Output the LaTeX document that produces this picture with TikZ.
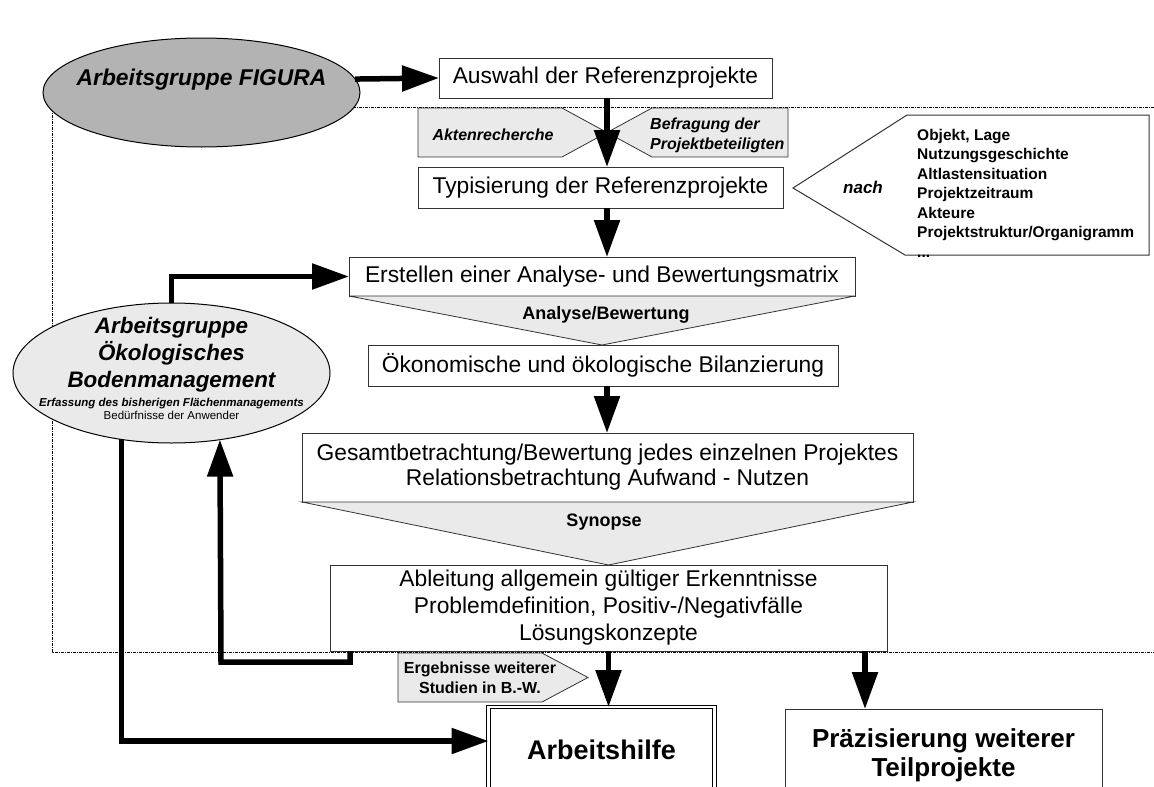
\documentclass[tikz,border=0pt]{standalone}
\usepackage{fontspec}
\setmainfont{Liberation Sans}
\usetikzlibrary{shapes.geometric,arrows.meta,calc}
\pgfdeclarelayer{bg}
\pgfsetlayers{bg,main}
\definecolor{dgray}{HTML}{B3B3B3}
\definecolor{lgray}{HTML}{EAEAEA}
\definecolor{edge}{HTML}{333333}
\begin{document}
\begin{tikzpicture}[x=1pt,y=-1pt,
  box/.style={draw=edge, line width=1pt, fill=white, inner sep=0pt, outer sep=0pt, align=center,
    font=\fontsize{22.8}{25}\selectfont},
  grayshape/.style={draw=edge, line width=0.8pt, fill=lgray},
  arr/.style={line width=5.5pt, line join=miter, -{Triangle[length=37pt,width=25pt]}},
  frame/.style={line width=1pt, dash pattern=on 3pt off 1pt on 1pt off 1pt},
  ell/.style={ellipse, draw=black, line width=1pt, inner sep=0pt, outer sep=0pt},
  txt/.style={inner sep=0pt, align=center}]
\useasboundingbox (0,0) rectangle (1154,787);

% frame
\begin{pgfonlayer}{bg}
\coordinate (fTL) at (52,107);
\coordinate (fTR) at (1160,107);
\coordinate (fBL) at (52,652);
\coordinate (fBR) at (1160,652);
\draw[frame] (fTR) -- (fTL) -- (fBL) -- (fBR);
\end{pgfonlayer}

% ellipses
\node[ell, fill=dgray, minimum width=317pt, minimum height=109pt] (figura) at (201.5,92.5) {};
\node[txt, font=\fontsize{22.8}{25}\selectfont\bfseries\itshape] (figuraT) at (201.5,80) {Arbeitsgruppe FIGURA};

\node[ell, fill=lgray, minimum width=317pt, minimum height=140pt] (boden) at (171.5,373) {};
\node[txt, font=\fontsize{22.4}{27}\selectfont\bfseries\itshape] (bodenT) at (171.5,355) {Arbeitsgruppe\\Ökologisches\\Bodenmanagement};
\node[txt, font=\fontsize{11.5}{13}\selectfont] (bodenS) at (171.5,409) {{\bfseries\itshape Erfassung des bisherigen Flächenmanagements}\\Bedürfnisse der Anwender};

% boxes
\node[box, minimum width=333pt, minimum height=40pt] (auswahl) at (605.5,78) {Auswahl der Referenzprojekte};
\node[box, minimum width=365pt, minimum height=41pt] (typ) at (600.5,187.5) {Typisierung der Referenzprojekte};
\node[box, minimum width=506pt, minimum height=39pt] (erst) at (602,276.5) {Erstellen einer Analyse- und Bewertungsmatrix};
\node[box, minimum width=470pt, minimum height=41pt] (oekon) at (603,365.5) {Ökonomische und ökologische Bilanzierung};
\node[box, minimum width=611pt, minimum height=69pt] (gesamt) at (607.5,467.5) {Gesamtbetrachtung/Bewertung jedes einzelnen Projektes\\Relationsbetrachtung Aufwand - Nutzen};
\node[box, minimum width=557pt, minimum height=86pt, font=\fontsize{22.8}{27}\selectfont] (ablt) at (608.5,608) {Ableitung allgemein gültiger Erkenntnisse\\Problemdefinition, Positiv-/Negativfälle\\Lösungskonzepte};
\node[box, draw=black, double=white, double distance=2.5pt, line width=1pt, minimum width=226pt, minimum height=93pt] (arbeit) at (601.5,753.5) {};
\node[txt, font=\fontsize{27}{30}\selectfont\bfseries] (arbeitT) at (601.5,750) {Arbeitshilfe};
\node[box, minimum width=317pt, minimum height=101pt] (praez) at (943.5,759.5) {};
\node[txt, font=\fontsize{26}{29}\selectfont\bfseries] (praezT) at (943.5,755.5) {Präzisierung weiterer\\Teilprojekte};

% gray shapes
\coordinate (xc) at (607,132.5);
\draw[grayshape] (418,108) -- (562,108) -- (xc) -- (562,157) -- (418,157) -- cycle;
\draw[grayshape] (788,108) -- (652,108) -- (xc) -- (652,157) -- (788,157) -- cycle;
\node[txt, font=\fontsize{16}{20}\selectfont\bfseries\itshape] (akten) at (493,135) {Aktenrecherche};
\node[txt, anchor=west, align=left, font=\fontsize{16}{20}\selectfont\bfseries\itshape] (befr) at (650,135) {Befragung der\\Projektbeteiligten};

\coordinate (tipA) at (602,0);
\draw[grayshape] (erst.south west) -- (erst.south east) -- (oekon.north -| tipA) -- cycle;
\node[txt, font=\fontsize{18}{20}\selectfont\bfseries] (analyse) at (606,315) {Analyse/Bewertung};
\draw[grayshape] (gesamt.south west) -- (gesamt.south east) -- (ablt.north) -- cycle;
\node[txt, font=\fontsize{18}{20}\selectfont\bfseries] (synopse) at (604,522) {Synopse};

\draw[grayshape] (398,653) -- (542,653) -- (588,677.5) -- (542,702) -- (398,702) -- cycle;
\node[txt, font=\fontsize{16}{20}\selectfont\bfseries] (ergeb) at (480,678) {Ergebnisse weiterer\\Studien in B.-W.};

% nach callout
\draw[draw=edge, line width=1pt, fill=white] (793,188) -- (907,115) -- (1149,115) -- (1149,255) -- (905,255) -- cycle;
\node[txt, font=\fontsize{17}{20}\selectfont\bfseries\itshape] (nach) at (863,187) {nach};
\node[txt, anchor=west, align=left, font=\fontsize{15.5}{19.5}\selectfont\bfseries] (liste) at (917,193) {Objekt, Lage\\Nutzungsgeschichte\\Altlastensituation\\Projektzeitraum\\Akteure\\Projektstruktur/Organigramm\\...};

% arrows
\coordinate (ax) at (607,0);
\coordinate (pr) at (865,0);
\draw[arr] (figura.5.4) -- (auswahl.west);
\draw[arr] (auswahl.south -| ax) -- (typ.north -| ax);
\draw[arr] (typ.south -| ax) -- (erst.north -| ax);
\draw[arr] (oekon.south -| ax) -- (gesamt.north -| ax);
\draw[arr] (ablt.south) -- (arbeit.north -| ablt.south);
\draw[arr] (ablt.south -| pr) -- (praez.north -| pr);

\coordinate (lA) at (0,741);
\coordinate (lB) at (221,662);
\coordinate (lC) at (350,662);
\draw[arr] (boden.north) |- (erst.west);
\draw[arr] (boden.233.3) |- (arbeit.west |- lA);
\draw[arr] (ablt.south -| lC) -- (lC) -- (lB) -- (boden.306.7);
\end{tikzpicture}
\end{document}
